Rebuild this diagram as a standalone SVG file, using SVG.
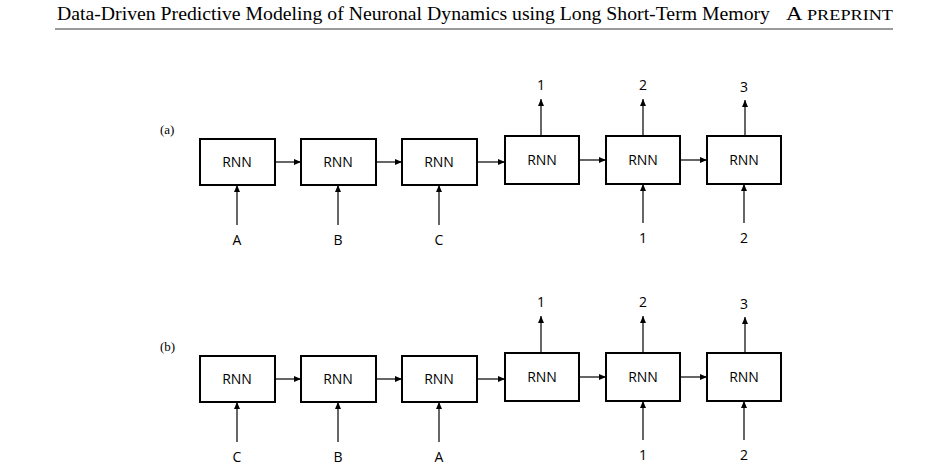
<svg xmlns="http://www.w3.org/2000/svg" width="948" height="467" viewBox="0 0 948 467">
<defs>
<marker id="ah" markerWidth="8" markerHeight="8" refX="7" refY="4" orient="auto" markerUnits="userSpaceOnUse"><path d="M0,1 L7,4 L0,7 z" fill="#000"/></marker>
<style>
.box{fill:#fff;stroke:#000;stroke-width:2}
.t{font-family:"Open Sans","DejaVu Sans",sans-serif;font-size:14px;text-anchor:middle;fill:#000}
.c{stroke:#000;stroke-width:1.2;fill:none;marker-end:url(#ah)}
.h{font-family:"Liberation Serif",serif;font-size:19.5px;fill:#000}
.l{font-family:"Liberation Serif",serif;font-size:13px;fill:#000}
</style>
</defs>
<text class="h" x="57" y="20" textLength="713" lengthAdjust="spacingAndGlyphs">Data-Driven Predictive Modeling of Neuronal Dynamics using Long Short-Term Memory</text>
<text class="h" x="786" y="20" textLength="107" lengthAdjust="spacingAndGlyphs">A <tspan font-size="15.5">PREPRINT</tspan></text>
<line x1="55" y1="29" x2="893" y2="29" stroke="#000" stroke-width="0.8"/>

<g id="panel-a">
<text class="l" x="160" y="134">(a)</text>
<g id="a1"><rect class="box" x="200" y="139" width="75" height="46"/><text class="t" x="237" y="167">RNN</text></g>
<g id="a2"><rect class="box" x="301" y="139" width="75" height="46"/><text class="t" x="338" y="167">RNN</text></g>
<g id="a3"><rect class="box" x="402" y="139" width="75" height="46"/><text class="t" x="439" y="167">RNN</text></g>
<g id="a4"><rect class="box" x="505" y="136" width="74" height="48"/><text class="t" x="542" y="165">RNN</text></g>
<g id="a5"><rect class="box" x="606" y="136" width="74" height="48"/><text class="t" x="643" y="165">RNN</text></g>
<g id="a6"><rect class="box" x="707" y="136" width="74" height="48"/><text class="t" x="744" y="165">RNN</text></g>
<g class="t"><text x="237" y="245">A</text><text x="338" y="245">B</text><text x="439" y="245">C</text><text x="643" y="243">1</text><text x="744" y="243">2</text>
<text x="541" y="90">1</text><text x="643" y="90">2</text><text x="744" y="92">3</text></g>
<g id="conn-a">
<path class="c" d="M275,162 H301"/><path class="c" d="M376,162 H402"/><path class="c" d="M477,162 H505"/><path class="c" d="M579,160 H606"/><path class="c" d="M680,160 H707"/>
<path class="c" d="M237,225 V185"/><path class="c" d="M338,225 V185"/><path class="c" d="M439,225 V185"/><path class="c" d="M643,223 V184"/><path class="c" d="M744,223 V184"/>
<path class="c" d="M541,136 V99"/><path class="c" d="M643,136 V99"/><path class="c" d="M745,136 V100"/>
</g>
</g>

<g id="panel-b" transform="translate(0,217)">
<text class="l" x="160" y="134">(b)</text>
<g id="b1"><rect class="box" x="200" y="139" width="75" height="46"/><text class="t" x="237" y="167">RNN</text></g>
<g id="b2"><rect class="box" x="301" y="139" width="75" height="46"/><text class="t" x="338" y="167">RNN</text></g>
<g id="b3"><rect class="box" x="402" y="139" width="75" height="46"/><text class="t" x="439" y="167">RNN</text></g>
<g id="b4"><rect class="box" x="505" y="136" width="74" height="48"/><text class="t" x="542" y="165">RNN</text></g>
<g id="b5"><rect class="box" x="606" y="136" width="74" height="48"/><text class="t" x="643" y="165">RNN</text></g>
<g id="b6"><rect class="box" x="707" y="136" width="74" height="48"/><text class="t" x="744" y="165">RNN</text></g>
<g class="t"><text x="237" y="245">C</text><text x="338" y="245">B</text><text x="439" y="245">A</text><text x="643" y="243">1</text><text x="744" y="243">2</text>
<text x="541" y="90">1</text><text x="643" y="90">2</text><text x="744" y="92">3</text></g>
<g id="conn-b">
<path class="c" d="M275,162 H301"/><path class="c" d="M376,162 H402"/><path class="c" d="M477,162 H505"/><path class="c" d="M579,160 H606"/><path class="c" d="M680,160 H707"/>
<path class="c" d="M237,225 V185"/><path class="c" d="M338,225 V185"/><path class="c" d="M439,225 V185"/><path class="c" d="M643,223 V184"/><path class="c" d="M744,223 V184"/>
<path class="c" d="M541,136 V99"/><path class="c" d="M643,136 V99"/><path class="c" d="M745,136 V100"/>
</g>
</g>
</svg>
